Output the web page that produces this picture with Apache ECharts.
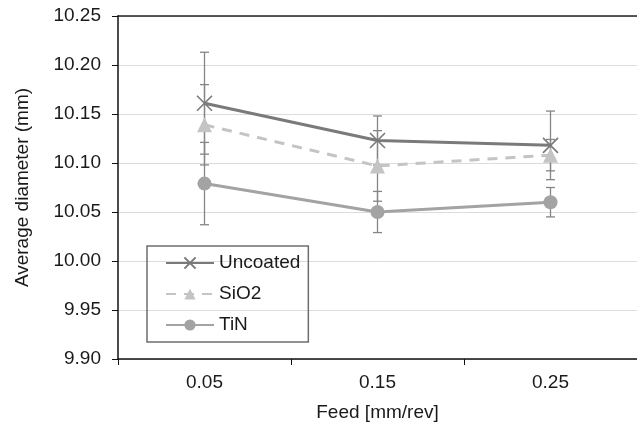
<!DOCTYPE html>
<html>
<head>
<meta charset="utf-8">
<script src="https://cdn.jsdelivr.net/npm/echarts@6/dist/echarts.min.js"></script>
<style>
  html, body { margin: 0; padding: 0; background: #fff; }
  #chart { width: 637px; height: 427px; }
</style>
</head>
<body>
<div id="chart"></div>
<script>
// data
var feeds = ['0.05', '0.15', '0.25'];
var uncoated = [10.161, 10.123, 10.118];
var uncoatedErr = [0.052, 0.025, 0.035];
var sio2 = [10.139, 10.097, 10.108];
var sio2Err = [0.041, 0.036, 0.016];
var tin = [10.079, 10.050, 10.060];
var tinErr = [0.042, 0.021, 0.015];

var FONT = 'Liberation Sans, Arial, sans-serif';
var FS = 19;

// low/high pairs for the error bars
function errData(vals, errs) {
    var out = [];
    for (var i = 0; i < vals.length; i++) {
        out.push([i, vals[i] - errs[i], vals[i] + errs[i]]);
    }
    return out;
}

function errSeries(vals, errs) {
    return {
        type: 'custom',
        silent: true,
        z: 1,
        data: errData(vals, errs),
        renderItem: function (params, api) {
            var lo = api.coord([api.value(0), api.value(1)]);
            var hi = api.coord([api.value(0), api.value(2)]);
            var w = 4.5;
            var st = { stroke: '#858585', lineWidth: 1.3 };
            return {
                type: 'group',
                children: [
                    { type: 'line', shape: { x1: lo[0], y1: lo[1], x2: hi[0], y2: hi[1] }, style: st },
                    { type: 'line', shape: { x1: lo[0] - w, y1: lo[1], x2: lo[0] + w, y2: lo[1] }, style: st },
                    { type: 'line', shape: { x1: hi[0] - w, y1: hi[1], x2: hi[0] + w, y2: hi[1] }, style: st }
                ]
            };
        }
    };
}

var crossPath = 'path://M0,0 L10,10 M10,0 L0,10';

var myChart = echarts.init(document.getElementById('chart'));
var option = {
    animation: false,
    textStyle: { fontFamily: FONT },
    grid: { left: 118, right: 0, top: 16, bottom: 68 },
    legend: {
        orient: 'vertical',
        left: 147,
        top: 246,
        padding: [7, 8, 7, 18],
        itemWidth: 48,
        itemHeight: 14,
        itemGap: 11,
        borderColor: '#6e6e6e',
        borderWidth: 1.5,
        textStyle: { fontFamily: FONT, fontSize: FS, lineHeight: 20, color: '#1a1a1a' },
        data: ['Uncoated', 'SiO2', 'TiN']
    },
    xAxis: [{
        type: 'category',
        data: feeds,
        name: 'Feed [mm/rev]',
        nameLocation: 'middle',
        nameGap: 44,
        nameTextStyle: { fontFamily: FONT, fontSize: FS, color: '#1a1a1a' },
        axisLine: { lineStyle: { color: '#111', width: 1.5 } },
        axisTick: { show: true, length: 6, lineStyle: { color: '#111' } },
        axisLabel: { fontFamily: FONT, fontSize: FS, color: '#1a1a1a', margin: 14 }
    }, {
        type: 'category',
        data: feeds,
        position: 'top',
        axisLine: { lineStyle: { color: '#222', width: 1.5 } },
        axisTick: { show: false },
        axisLabel: { show: false }
    }],
    yAxis: {
        type: 'value',
        min: 9.9,
        max: 10.25,
        interval: 0.05,
        name: 'Average diameter (mm)',
        nameLocation: 'middle',
        nameGap: 86,
        nameTextStyle: { fontFamily: FONT, fontSize: FS, color: '#1a1a1a' },
        axisLine: { show: true, lineStyle: { color: '#111', width: 1.5 } },
        axisTick: { show: true, length: 6, lineStyle: { color: '#111' } },
        axisLabel: {
            fontFamily: FONT, fontSize: FS, color: '#1a1a1a', margin: 17,
            formatter: function (v) { return v.toFixed(2); }
        },
        splitLine: { lineStyle: { color: '#dcdcdc', width: 1 } }
    },
    series: [
        errSeries(uncoated, uncoatedErr),
        errSeries(sio2, sio2Err),
        errSeries(tin, tinErr),
        {
            name: 'Uncoated',
            type: 'line',
            z: 4,
            data: uncoated,
            symbol: crossPath,
            symbolSize: 15,
            lineStyle: { color: '#7a7a7a', width: 3 },
            itemStyle: { color: '#7a7a7a', borderColor: '#7a7a7a', borderWidth: 1.6 }
        },
        {
            name: 'SiO2',
            type: 'line',
            z: 3,
            data: sio2,
            symbol: 'triangle',
            symbolSize: 15,
            lineStyle: { color: '#c4c4c4', width: 3, type: [10, 8] },
            itemStyle: { color: '#c4c4c4' }
        },
        {
            name: 'TiN',
            type: 'line',
            z: 3,
            data: tin,
            symbol: 'circle',
            symbolSize: 14,
            lineStyle: { color: '#a3a3a3', width: 3 },
            itemStyle: { color: '#a3a3a3' }
        }
    ]
};
myChart.setOption(option);
</script>
</body>
</html>
